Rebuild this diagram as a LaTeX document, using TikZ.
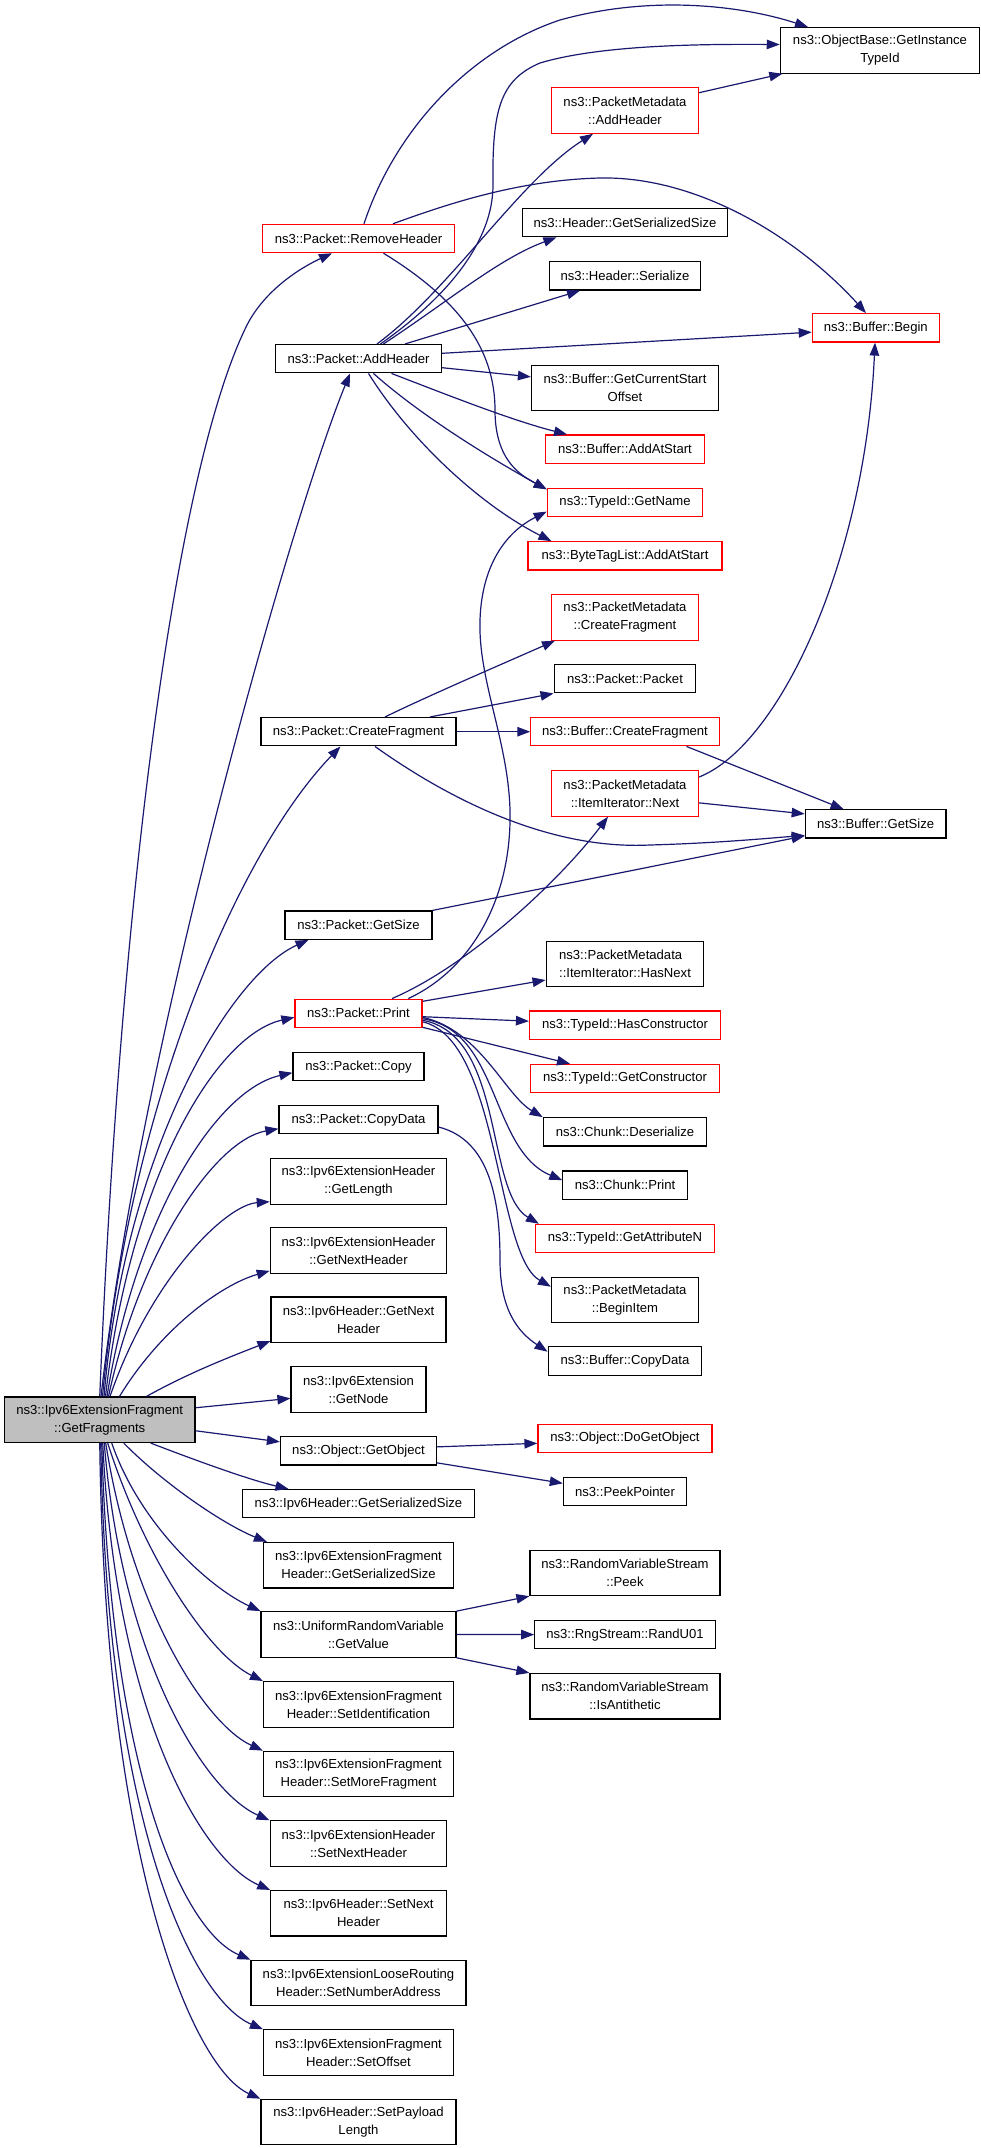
\documentclass[tikz,border=0pt]{standalone}
\usepackage{fontspec}
\setmainfont{Liberation Sans}
\usetikzlibrary{arrows.meta}
\definecolor{edgec}{HTML}{191970}
\definecolor{redc}{HTML}{FF0000}
\definecolor{grayc}{HTML}{BFBFBF}
\begin{document}
\begin{tikzpicture}[x=1pt,y=-1pt,
  nb/.style={draw=black, line width=1.2pt, inner sep=0pt, fill=white,
    font=\fontsize{13.1}{18}\selectfont, align=center},
  rb/.style={nb, draw=redc},
  s1/.style={minimum width=#1pt, minimum height=28.3pt},
  s2/.style={minimum width=#1pt, minimum height=45.5pt},
  e/.style={draw=edgec, color=edgec, line width=1.2pt, -{Triangle[length=13pt,width=9.5pt]}}
]
\fill[white] (0,0) rectangle (981,2148);
\useasboundingbox (0,0) rectangle (981,2148);

% nodes
\node[nb,s2=190.5,fill=grayc] (main) at (99.75,1419.75) {ns3::Ipv6ExtensionFragment\\::GetFragments};
\node[nb,s2=199.3] (obt) at (880,50.35) {ns3::ObjectBase::GetInstance\\TypeId};
\node[rb,s2=147] (pmah) at (625,110.5) {ns3::PacketMetadata\\::AddHeader};
\node[rb,s1=191.3] (rh) at (358.5,238.5) {ns3::Packet::RemoveHeader};
\node[nb,s1=205.3] (hgss) at (625,222.7) {ns3::Header::GetSerializedSize};
\node[nb,s1=151] (hser) at (625,275.85) {ns3::Header::Serialize};
\node[rb,s1=127] (bbeg) at (875.8,327.85) {ns3::Buffer::Begin};
\node[nb,s1=166] (ah) at (358.5,358.7) {ns3::Packet::AddHeader};
\node[nb,s2=187] (gcso) at (625,387.85) {ns3::Buffer::GetCurrentStart\\Offset};
\node[rb,s1=159.4] (baas) at (625,449.15) {ns3::Buffer::AddAtStart};
\node[rb,s1=155.4] (gn) at (625,502.6) {ns3::TypeId::GetName};
\node[rb,s1=194] (btl) at (625,555.85) {ns3::ByteTagList::AddAtStart};
\node[rb,s2=147] (pmcf) at (625,617.35) {ns3::PacketMetadata\\::CreateFragment};
\node[nb,s1=141.7] (pp) at (625,678.7) {ns3::Packet::Packet};
\node[nb,s1=195] (cf) at (358.5,731.7) {ns3::Packet::CreateFragment};
\node[rb,s1=188.3] (bcf) at (625,731.7) {ns3::Buffer::CreateFragment};
\node[rb,s2=147] (nxt) at (625,793.35) {ns3::PacketMetadata\\::ItemIterator::Next};
\node[nb,s1=140.7] (bgs) at (875.65,823.9) {ns3::Buffer::GetSize};
\node[nb,s1=147] (gs) at (358.5,925.15) {ns3::Packet::GetSize};
\node[nb,s2=157.7,align=left] (hn) at (625,964) {ns3::PacketMetadata\\::ItemIterator::HasNext};
\node[rb,s1=127] (pr) at (358.5,1013.3) {ns3::Packet::Print};
\node[rb,s1=191] (hc) at (625,1025.15) {ns3::TypeId::HasConstructor};
\node[nb,s1=131] (cp) at (358.5,1066.7) {ns3::Packet::Copy};
\node[rb,s1=188.3] (gc) at (625,1078.5) {ns3::TypeId::GetConstructor};
\node[nb,s1=159] (cd) at (358.5,1119.7) {ns3::Packet::CopyData};
\node[nb,s1=163.4] (cds) at (625,1131.85) {ns3::Chunk::Deserialize};
\node[nb,s2=176.4] (gl) at (358.5,1181.35) {ns3::Ipv6ExtensionHeader\\::GetLength};
\node[nb,s1=124.3] (chp) at (625,1185.15) {ns3::Chunk::Print};
\node[rb,s1=179] (gan) at (625,1238.5) {ns3::TypeId::GetAttributeN};
\node[nb,s2=176.4] (gnh) at (358.5,1250.5) {ns3::Ipv6ExtensionHeader\\::GetNextHeader};
\node[nb,s2=147] (bi) at (625,1300) {ns3::PacketMetadata\\::BeginItem};
\node[nb,s2=175] (hgnh) at (358.5,1319.65) {ns3::Ipv6Header::GetNext\\Header};
\node[nb,s1=153.7] (bcd) at (625,1361) {ns3::Buffer::CopyData};
\node[nb,s2=135] (gnd) at (358.5,1389.35) {ns3::Ipv6Extension\\::GetNode};
\node[rb,s1=174] (dgo) at (625,1438.5) {ns3::Object::DoGetObject};
\node[nb,s1=156] (go) at (358.5,1450.85) {ns3::Object::GetObject};
\node[nb,s1=123.2] (ppt) at (625,1491.65) {ns3::PeekPointer};
\node[nb,s1=231.4] (hgss6) at (358.5,1503.65) {ns3::Ipv6Header::GetSerializedSize};
\node[nb,s2=190] (efgss) at (358.5,1565.15) {ns3::Ipv6ExtensionFragment\\Header::GetSerializedSize};
\node[nb,s2=190] (peek) at (625,1572.85) {ns3::RandomVariableStream\\::Peek};
\node[nb,s2=195] (urv) at (358.5,1634.45) {ns3::UniformRandomVariable\\::GetValue};
\node[nb,s1=180.4] (ru) at (625,1634.6) {ns3::RngStream::RandU01};
\node[nb,s2=190] (anti) at (625,1696.2) {ns3::RandomVariableStream\\::IsAntithetic};
\node[nb,s2=190] (sid) at (358.5,1704.35) {ns3::Ipv6ExtensionFragment\\Header::SetIdentification};
\node[nb,s2=190] (smf) at (358.5,1774) {ns3::Ipv6ExtensionFragment\\Header::SetMoreFragment};
\node[nb,s2=176.7] (snh) at (358.5,1843.6) {ns3::Ipv6ExtensionHeader\\::SetNextHeader};
\node[nb,s2=175.4] (h6snh) at (358.5,1913.25) {ns3::Ipv6Header::SetNext\\Header};
\node[nb,s2=215] (sna) at (358.5,1983) {ns3::Ipv6ExtensionLooseRouting\\Header::SetNumberAddress};
\node[nb,s2=190] (sof) at (358.5,2052.6) {ns3::Ipv6ExtensionFragment\\Header::SetOffset};
\node[nb,s2=195] (spl) at (358.5,2122) {ns3::Ipv6Header::SetPayload\\Length};

% edges from main
\draw[e] (main.north) .. controls (120,900) and (175,470) .. (247,325) .. controls (265,290) and (300,268) .. ([xshift=-26.5pt]rh.south);
\draw[e] ([xshift=1.25pt]main.north) .. controls (140,1050) and (290,520) .. ([xshift=-8.5pt]ah.south);
\draw[e] ([xshift=2.75pt]main.north) .. controls (130,1100) and (240,850) .. ([xshift=-18pt]cf.south);
\draw[e] ([xshift=4.25pt]main.north) .. controls (125,1150) and (230,975) .. ([xshift=-50pt]gs.south);
\draw[e] ([xshift=5.75pt]main.north) .. controls (130,1180) and (215,1035) .. ([yshift=-4pt]pr.west);
\draw[e] ([xshift=7.25pt]main.north) .. controls (135,1220) and (215,1090) .. ([yshift=-6pt]cp.west);
\draw[e] ([xshift=8.75pt]main.north) .. controls (140,1250) and (215,1140) .. ([yshift=-9pt]cd.west);
\draw[e] ([xshift=10.25pt]main.north) .. controls (150,1280) and (225,1205) .. ([yshift=3pt]gl.south west);
\draw[e] ([xshift=19.75pt]main.north) .. controls (160,1330) and (220,1285) .. ([yshift=3pt]gnh.south west);
\draw[e] ([xshift=46.75pt]main.north) .. controls (190,1372) and (235,1355) .. ([yshift=2pt]hgnh.south west);
\draw[e] ([yshift=12pt]main.east) -- ([yshift=-9pt]gnd.west);
\draw[e] ([yshift=-11pt]main.east) -- ([yshift=9pt]go.west);
\draw[e] ([xshift=51pt]main.south) .. controls (200,1462) and (250,1480) .. ([xshift=-70pt]hgss6.north);
\draw[e] ([xshift=24pt]main.south) .. controls (165,1485) and (225,1525) .. ([xshift=4pt]efgss.north west);
\draw[e] ([xshift=12pt]main.south) .. controls (140,1525) and (210,1588) .. (urv.north west);
\draw[e] ([xshift=8pt]main.south) .. controls (145,1560) and (210,1655) .. (sid.north west);
\draw[e] ([xshift=6pt]main.south) .. controls (132,1610) and (205,1724) .. (smf.north west);
\draw[e] ([xshift=4.5pt]main.south) .. controls (122,1660) and (205,1792) .. (snh.north west);
\draw[e] ([xshift=3pt]main.south) .. controls (116,1720) and (205,1862) .. (h6snh.north west);
\draw[e] ([xshift=2pt]main.south) .. controls (111,1780) and (185,1932) .. (sna.north west);
\draw[e] ([xshift=1pt]main.south) .. controls (107,1830) and (195,2000) .. (sof.north west);
\draw[e] (main.south) .. controls (105,1870) and (195,2070) .. (spl.north west);

% RemoveHeader
\draw[e] ([xshift=5.5pt]rh.north) .. controls (395,130) and (470,50) .. (560,20) .. controls (650,-5) and (740,5) .. ([xshift=-72pt]obt.north);
\draw[e] ([xshift=34.5pt]rh.north) .. controls (450,203) and (520,180) .. (600,178) .. controls (700,176) and (800,240) .. ([xshift=-9.8pt]bbeg.north);
\draw[e] ([xshift=25pt]rh.south) .. controls (460,300) and (495,350) .. (495,410) .. controls (495,460) and (520,475) .. ([yshift=-1.5pt]gn.north west);

% AddHeader
\draw[e] ([xshift=18.5pt]ah.north) .. controls (450,290) and (520,180) .. ([xshift=-32pt]pmah.south);
\draw[e] ([xshift=22pt]ah.north) .. controls (450,295) and (493,240) .. (493,185) .. controls (492,110) and (500,80) .. (540,63) .. controls (600,45) and (700,44) .. ([yshift=5.85pt]obt.west);
\draw[e] ([xshift=25pt]ah.north) .. controls (450,300) and (500,258) .. ([xshift=-68.6pt]hgss.south);
\draw[e] ([xshift=46.5pt]ah.north) -- ([xshift=-45pt]hser.south);
\draw[e] ([yshift=5.4pt]ah.east) -- ([yshift=-4.3pt]bbeg.west);
\draw[e] ([yshift=-9pt]ah.east) -- ([yshift=11pt]gcso.west);
\draw[e] ([xshift=33pt]ah.south) .. controls (440,392) and (510,420) .. ([xshift=-58pt]baas.north);
\draw[e] ([xshift=15pt]ah.south) .. controls (420,415) and (490,458) .. ([yshift=-1.5pt]gn.north west);
\draw[e] ([xshift=10pt]ah.south) .. controls (410,440) and (480,505) .. ([xshift=-73.6pt]btl.north);
\draw[e] ([yshift=17.8pt]pmah.east) -- ([xshift=2.6pt]obt.south west);

% CreateFragment
\draw[e] ([xshift=26.5pt]cf.north) .. controls (430,695) and (500,665) .. ([xshift=-70pt]pmcf.south);
\draw[e] ([xshift=71.5pt]cf.north) -- (pp.south west);
\draw[e] (cf.east) -- (bcf.west);
\draw[e] ([xshift=16.5pt]cf.south) .. controls (450,800) and (550,850) .. (650,845) .. controls (720,843) and (770,838) .. ([yshift=-11.6pt]bgs.west);
\draw[e] ([xshift=61.5pt]bcf.south) -- ([xshift=-32pt]bgs.north);
\draw[e] ([yshift=16.35pt]nxt.east) .. controls (780,745) and (865,560) .. ([xshift=-0.8pt]bbeg.south);
\draw[e] ([yshift=-9.5pt]nxt.east) -- ([yshift=10pt]bgs.west);
\draw[e] (gs.north east) -- ([yshift=-12pt]bgs.west);

% Print
\draw[e] ([xshift=33.5pt]pr.north) .. controls (470,965) and (560,880) .. ([xshift=-17pt]nxt.south);
\draw[e] ([xshift=49.8pt]pr.north) .. controls (470,970) and (512,900) .. (510,810) .. controls (508,740) and (478,680) .. (480,620) .. controls (482,560) and (510,530) .. ([yshift=-9pt]gn.west);
\draw[e] ([yshift=12pt]pr.east) -- ([yshift=-16pt]hn.west);
\draw[e] ([yshift=-3.4pt]pr.east) -- ([yshift=4pt]hc.west);
\draw[e] ([yshift=-14pt]pr.east) -- ([xshift=-55pt]gc.north);
\draw[e] ([yshift=-4pt]pr.east) .. controls (480,1030) and (505,1095) .. (cds.north west);
\draw[e] ([yshift=-5.5pt]pr.east) .. controls (500,1030) and (490,1150) .. ([yshift=5pt]chp.west);
\draw[e] ([yshift=-7pt]pr.east) .. controls (505,1035) and (485,1192) .. ([xshift=4pt]gan.north west);
\draw[e] ([yshift=-8.5pt]pr.east) .. controls (500,1040) and (495,1255) .. ([yshift=13.3pt]bi.west);
\draw[e] ([yshift=-7.3pt]cd.east) .. controls (490,1140) and (500,1200) .. (500,1260) .. controls (500,1310) and (518,1332) .. ([yshift=9.3pt]bcd.west);

% GetObject
\draw[e] ([yshift=4pt]go.east) -- ([yshift=-4.8pt]dgo.west);
\draw[e] ([yshift=-12pt]go.east) -- ([yshift=8.35pt]ppt.west);

% UniformRandomVariable
\draw[e] (urv.north east) -- (peek.south west);
\draw[e] (urv.east) -- (ru.west);
\draw[e] (urv.south east) -- (anti.north west);
\end{tikzpicture}
\end{document}
